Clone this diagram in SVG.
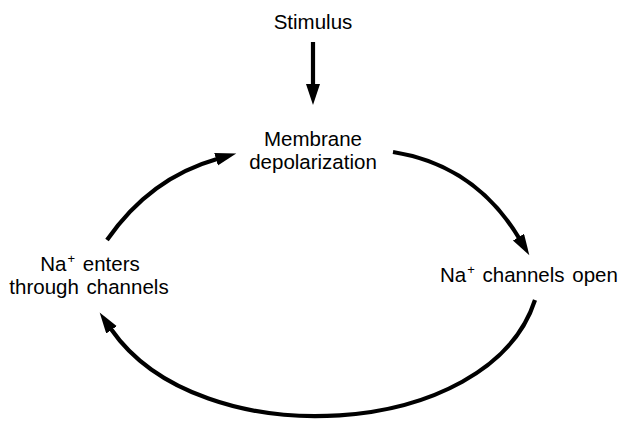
<svg xmlns="http://www.w3.org/2000/svg" width="626" height="425" viewBox="0 0 626 425">
<style>
text{font-family:"Liberation Sans",Arial,sans-serif;font-size:20.5px;fill:#000;word-spacing:2px}
.c{text-anchor:middle}
.sup{font-size:13px}
.conn{fill:none;stroke:#000;stroke-width:4.2}
</style>
<defs>
<marker id="ah" markerUnits="userSpaceOnUse" markerWidth="22" markerHeight="14" refX="1" refY="6.5" orient="auto">
<path d="M0,0 L21,6.5 L0,13 z" fill="#000"/>
</marker>
</defs>
<rect width="626" height="425" fill="#fff"/>
<g id="stimulus"><text class="c" x="313" y="29">Stimulus</text></g>
<g id="membrane"><text class="c" x="313" y="146">Membrane</text><text class="c" x="313" y="169">depolarization</text></g>
<g id="na-enters"><text class="c" x="90" y="271">Na<tspan class="sup" dx="1" dy="-8">+</tspan><tspan dy="8"> enters</tspan></text><text class="c" x="89" y="294">through channels</text></g>
<g id="na-open"><text x="440" y="282">Na<tspan class="sup" dx="1" dy="-8">+</tspan><tspan dy="8"> channels open</tspan></text></g>
<g id="connectors">
<line class="conn" x1="313" y1="42" x2="313" y2="86" stroke-width="3.5"/>
<polygon points="306,84 320,84 313,105" fill="#000"/>
<path class="conn" d="M393,152 Q475,165 519,238" marker-end="url(#ah)"/>
<path class="conn" d="M535,300 C490,440 200,458 111,329" marker-end="url(#ah)"/>
<path class="conn" d="M107,240 Q150,178 217,159" marker-end="url(#ah)"/>
</g>
</svg>
